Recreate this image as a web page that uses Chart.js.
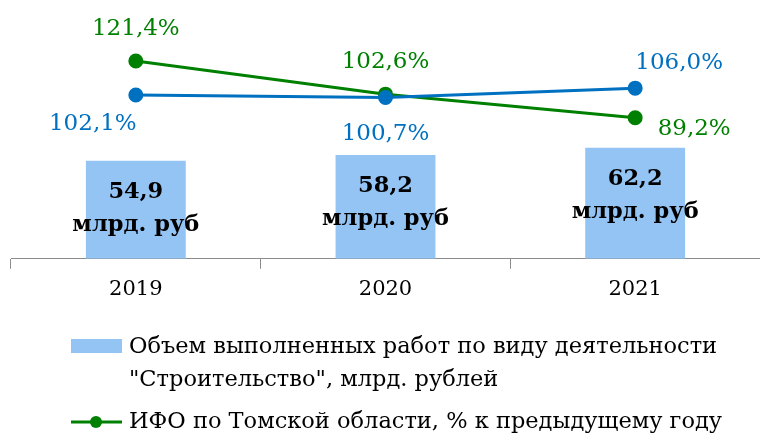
<!DOCTYPE html>
<html>
<head>
<meta charset="utf-8">
<script src="https://cdn.jsdelivr.net/npm/chart.js@4/dist/chart.umd.min.js"></script>
<style>
  html, body { margin: 0; padding: 0; background: #fff; overflow: hidden; }
  #wrap { width: 769px; height: 437px; }
</style>
</head>
<body>
<div id="wrap"><canvas id="chart-area"></canvas></div>
<script>
var years = ['2019', '2020', '2021'];
var volume = [54.9, 58.2, 62.2];          // млрд. рублей
var ifoTomsk = [121.4, 102.6, 89.2];      // % к предыдущему году
var secondIndex = [102.1, 100.7, 106.0];  // синяя линия (нет в легенде)
var volumeUnit = 'млрд. руб';
var legendBar = ['Объем выполненных работ по виду деятельности', '"Строительство", млрд. рублей'];
var legendLine = 'ИФО по Томской области, % к предыдущему году';

var FONT = '"DejaVu Serif", serif';
var colors = {
    bar: '#93C4F4',
    green: '#008000',
    blue: '#0070C0',
    axis: '#8c8c8c'
};

function fmt(v, digits) {
    return v.toFixed(digits).replace('.', ',');
}

// подписи значений рисуем сами (плагина datalabels нет)
var valueLabels = {
    id: 'valueLabels',
    afterDatasetsDraw: function(chart) {
        var ctx = chart.ctx;
        ctx.save();
        ctx.textAlign = 'center';
        ctx.textBaseline = 'middle';
        chart.data.datasets.forEach(function(ds, i) {
            var meta = chart.getDatasetMeta(i);
            meta.data.forEach(function(el, j) {
                var v = ds.data[j];
                if (ds.type === 'bar') {
                    ctx.fillStyle = '#000';
                    ctx.font = 'bold 22.5px ' + FONT;
                    ctx.fillText(fmt(v, 1), el.x, el.y + 31);
                    ctx.fillText(volumeUnit, el.x, el.y + 64);
                } else {
                    var off = ds.labelOffsets[j];
                    ctx.fillStyle = ds.borderColor;
                    ctx.font = '23px ' + FONT;
                    ctx.fillText(fmt(v, 1) + '%', el.x + off[0], el.y + off[1]);
                }
            });
        });
        ctx.restore();
    }
};

// легенда снизу: только столбцы и зелёная линия, первая подпись в две строки
var bottomLegend = {
    id: 'bottomLegend',
    afterDraw: function(chart) {
        var ctx = chart.ctx;
        var bar = chart.data.datasets[0];
        var line = chart.data.datasets[1];
        ctx.save();
        ctx.fillStyle = bar.backgroundColor;
        ctx.fillRect(71, 339, 51, 14);

        ctx.font = '22.5px ' + FONT;
        ctx.fillStyle = '#000';
        ctx.textAlign = 'left';
        ctx.textBaseline = 'middle';
        legendBar.forEach(function(t, k) {
            ctx.fillText(t, 129, 347 + k * 33);
        });

        ctx.strokeStyle = line.borderColor;
        ctx.lineWidth = 3;
        ctx.beginPath();
        ctx.moveTo(71, 422);
        ctx.lineTo(122, 422);
        ctx.stroke();
        ctx.fillStyle = line.borderColor;
        ctx.beginPath();
        ctx.arc(96, 422, 6, 0, Math.PI * 2);
        ctx.fill();

        ctx.fillStyle = '#000';
        ctx.fillText(legendLine, 129, 422);
        ctx.restore();
    }
};

var config = {
    data: {
        labels: years,
        datasets: [{
            type: 'bar',
            label: legendBar.join(' '),
            data: volume,
            backgroundColor: colors.bar,
            yAxisID: 'y',
            order: 3,
            barPercentage: 0.4,
            categoryPercentage: 1.0
        }, {
            type: 'line',
            label: legendLine,
            data: ifoTomsk,
            borderColor: colors.green,
            backgroundColor: colors.green,
            pointBackgroundColor: colors.green,
            borderWidth: 3,
            pointRadius: 6,
            tension: 0,
            yAxisID: 'y1',
            order: 2,
            labelOffsets: [[0, -32], [0, -32], [59, 11]]
        }, {
            type: 'line',
            label: 'index2',
            data: secondIndex,
            borderColor: colors.blue,
            backgroundColor: colors.blue,
            pointBackgroundColor: colors.blue,
            borderWidth: 3,
            pointRadius: 6,
            tension: 0,
            yAxisID: 'y1',
            order: 1,
            labelOffsets: [[-43, 29], [0, 37], [44, -25]]
        }]
    },
    options: {
        responsive: true,
        maintainAspectRatio: false,
        animation: false,
        layout: {
            padding: { top: 4, left: 11, right: 0, bottom: 127 }
        },
        plugins: {
            legend: { display: false },
            tooltip: { enabled: false }
        },
        scales: {
            x: {
                grid: {
                    display: true,
                    drawOnChartArea: false,
                    tickLength: 10,
                    color: colors.axis,
                    lineWidth: 1
                },
                border: { display: true, color: colors.axis, width: 1 },
                ticks: {
                    color: '#000',
                    font: { family: FONT, size: 21 },
                    padding: 8
                }
            },
            y: { display: false, min: 0, max: 140 },
            y1: { display: false, min: 9, max: 151 }
        }
    },
    plugins: [valueLabels, bottomLegend]
};

window.onload = function() {
    var ctx = document.getElementById('chart-area').getContext('2d');
    window.comboChart = new Chart(ctx, config);
};
</script>
</body>
</html>
